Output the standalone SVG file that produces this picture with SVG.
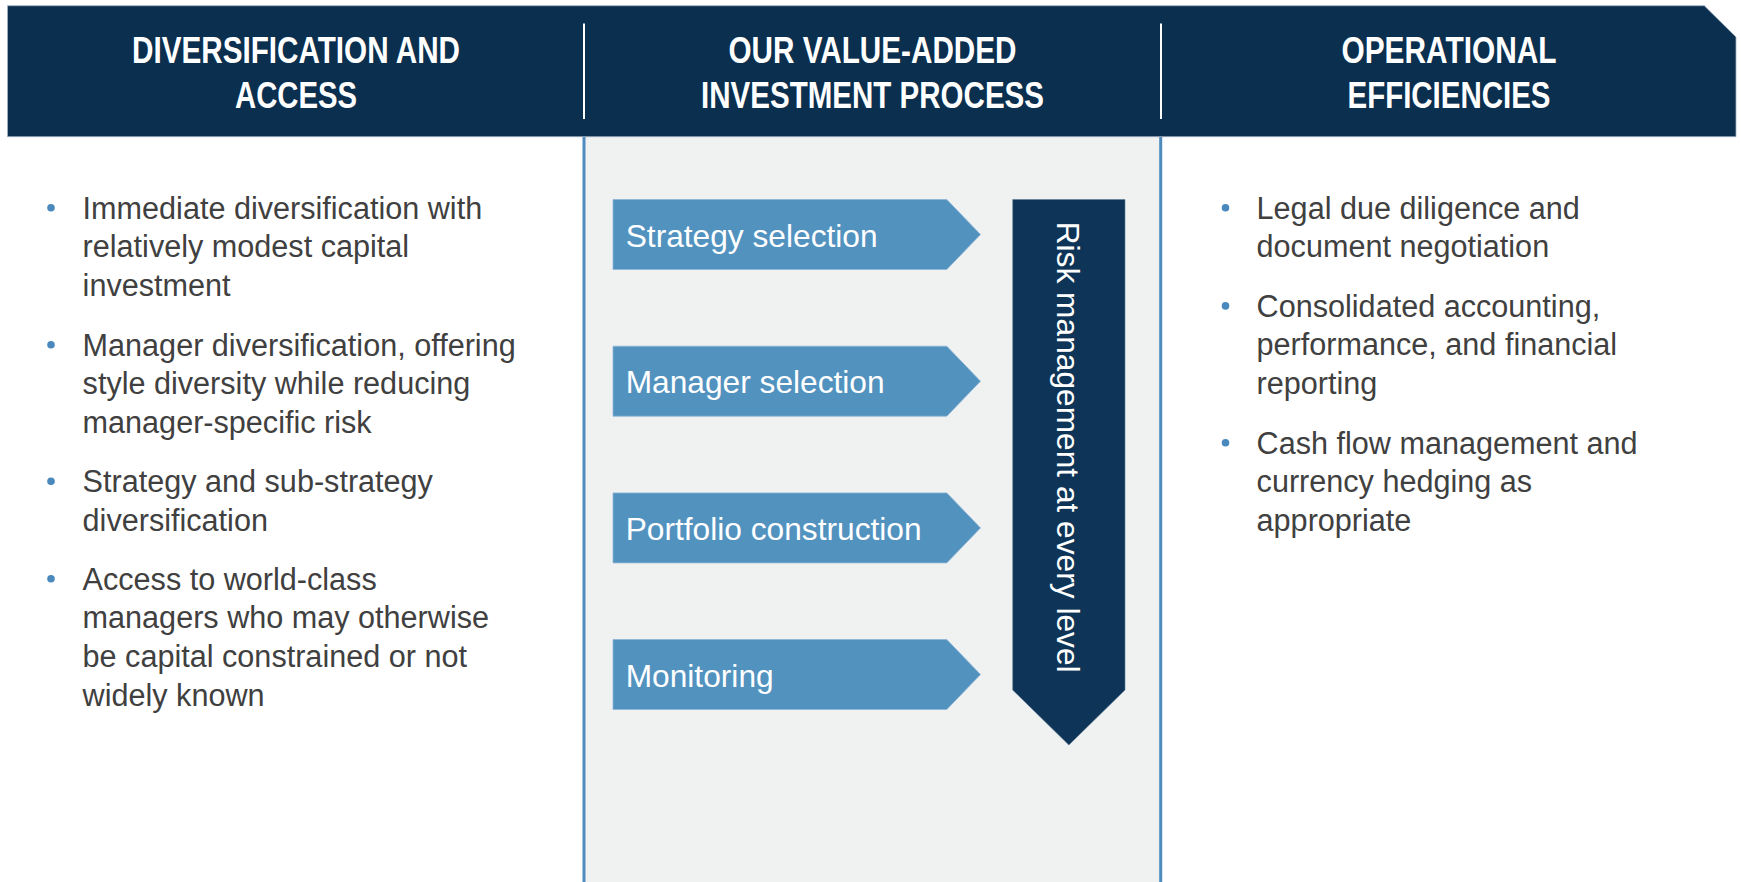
<svg xmlns="http://www.w3.org/2000/svg" width="1741" height="882" viewBox="0 0 1741 882">
<defs>
<style>
.hdr{fill:#FFFFFF;font-family:"Liberation Sans Narrow","Liberation Sans",Arial,sans-serif;font-weight:bold;font-size:36px;text-anchor:middle;}
.body{fill:#404040;font-family:"Liberation Sans",Arial,sans-serif;font-size:30.6px;}
.chev{fill:#5292BF;stroke:#8DB6D6;stroke-width:0.8;}
.chevtxt{fill:#FFFFFF;font-family:"Liberation Sans",Arial,sans-serif;font-size:31.7px;}
.dot{fill:#4A89BE;}
.divider{stroke:#FFFFFF;stroke-width:2;}
</style>
</defs>
<rect x="0" y="0" width="1741" height="882" fill="#FFFFFF"/>

<g id="middle-panel">
<rect x="584" y="137" width="577" height="745" fill="#F0F1F1"/>
<line x1="584" y1="137" x2="584" y2="882" stroke="#4E8BBE" stroke-width="3"/>
<line x1="1160.7" y1="137" x2="1160.7" y2="882" stroke="#4E8BBE" stroke-width="3"/>
</g>

<g id="header">
<polygon points="7.5,5.7 1704.3,5.7 1736,37 1736,136.7 7.5,136.7" fill="#0B2F4F" stroke="#A3B3C3" stroke-width="0.8"/>
<line class="divider" x1="584" y1="23.5" x2="584" y2="119"/>
<line class="divider" x1="1161" y1="23.5" x2="1161" y2="119"/>
</g>

<g id="header-col1">
<text class="hdr" x="296" y="62.7" textLength="328" lengthAdjust="spacingAndGlyphs">DIVERSIFICATION AND</text>
<text class="hdr" x="296" y="108.3" textLength="122" lengthAdjust="spacingAndGlyphs">ACCESS</text>
</g>
<g id="header-col2">
<text class="hdr" x="872.5" y="62.7" textLength="288" lengthAdjust="spacingAndGlyphs">OUR VALUE-ADDED</text>
<text class="hdr" x="872.5" y="108.3" textLength="343" lengthAdjust="spacingAndGlyphs">INVESTMENT PROCESS</text>
</g>
<g id="header-col3">
<text class="hdr" x="1449" y="62.7" textLength="215" lengthAdjust="spacingAndGlyphs">OPERATIONAL</text>
<text class="hdr" x="1449" y="108.3" textLength="203" lengthAdjust="spacingAndGlyphs">EFFICIENCIES</text>
</g>

<g id="left-list">
<circle class="dot" cx="51" cy="207.7" r="3.8"/>
<text class="body" x="82.6" y="218.5">Immediate diversification with</text>
<text class="body" x="82.6" y="257.2">relatively modest capital</text>
<text class="body" x="82.6" y="295.9">investment</text>
<circle class="dot" cx="51" cy="344.7" r="3.8"/>
<text class="body" x="82.6" y="355.5">Manager diversification, offering</text>
<text class="body" x="82.6" y="394.2">style diversity while reducing</text>
<text class="body" x="82.6" y="432.9">manager-specific risk</text>
<circle class="dot" cx="51" cy="481.2" r="3.8"/>
<text class="body" x="82.6" y="492">Strategy and sub-strategy</text>
<text class="body" x="82.6" y="530.7">diversification</text>
<circle class="dot" cx="51" cy="578.7" r="3.8"/>
<text class="body" x="82.6" y="589.5">Access to world-class</text>
<text class="body" x="82.6" y="628.2">managers who may otherwise</text>
<text class="body" x="82.6" y="666.9">be capital constrained or not</text>
<text class="body" x="82.6" y="705.6">widely known</text>
</g>

<g id="right-list">
<circle class="dot" cx="1225.5" cy="207.7" r="3.8"/>
<text class="body" x="1256.6" y="218.5">Legal due diligence and</text>
<text class="body" x="1256.6" y="257.2">document negotiation</text>
<circle class="dot" cx="1225.5" cy="305.9" r="3.8"/>
<text class="body" x="1256.6" y="316.7">Consolidated accounting,</text>
<text class="body" x="1256.6" y="355.4">performance, and financial</text>
<text class="body" x="1256.6" y="394.1">reporting</text>
<circle class="dot" cx="1225.5" cy="442.7" r="3.8"/>
<text class="body" x="1256.6" y="453.5">Cash flow management and</text>
<text class="body" x="1256.6" y="492.2">currency hedging as</text>
<text class="body" x="1256.6" y="530.9">appropriate</text>
</g>

<g id="step-strategy-selection">
<polygon class="chev" points="613,199.5 946.8,199.5 980.5,234.5 946.8,269.5 613,269.5"/>
<text class="chevtxt" x="625.7" y="246.7">Strategy selection</text>
</g>
<g id="step-manager-selection">
<polygon class="chev" points="613,346.2 946.8,346.2 980.5,381.2 946.8,416.2 613,416.2"/>
<text class="chevtxt" x="625.7" y="393.4">Manager selection</text>
</g>
<g id="step-portfolio-construction">
<polygon class="chev" points="613,492.9 946.8,492.9 980.5,527.9 946.8,562.9 613,562.9"/>
<text class="chevtxt" x="625.7" y="540.1">Portfolio construction</text>
</g>
<g id="step-monitoring">
<polygon class="chev" points="613,639.5 946.8,639.5 980.5,674.5 946.8,709.5 613,709.5"/>
<text class="chevtxt" x="625.7" y="686.7">Monitoring</text>
</g>

<g id="risk-management">
<polygon points="1012.7,199.5 1125,199.5 1125,690 1068.85,745 1012.7,690" fill="#0E3557" stroke="#5F7D99" stroke-width="0.6"/>
<text class="chevtxt" font-size="32" transform="translate(1057,221.7) rotate(90)">Risk management at every level</text>
</g>

<g id="connectors"/>
</svg>
